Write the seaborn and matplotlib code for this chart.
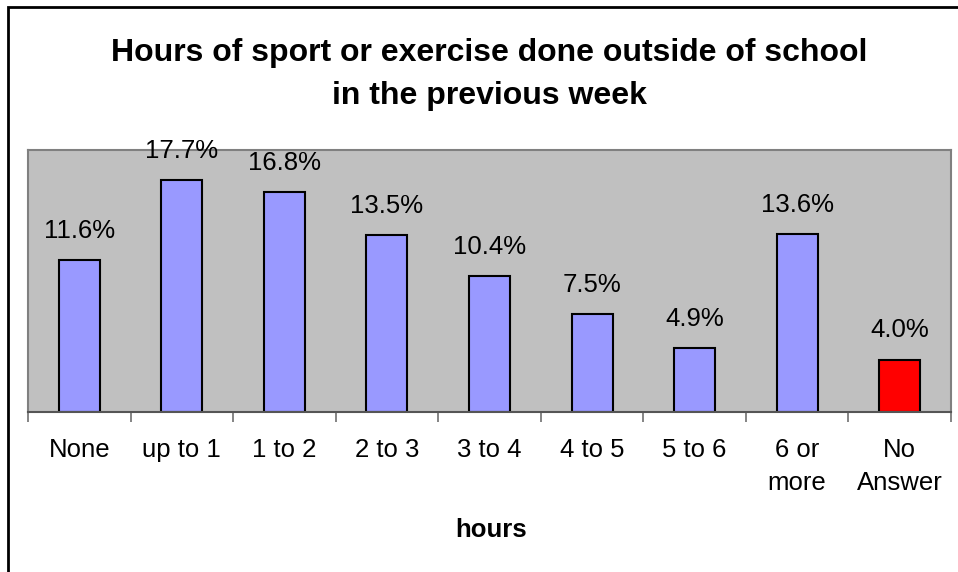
import matplotlib
matplotlib.use("Agg")
import matplotlib.pyplot as plt
from matplotlib.patches import Rectangle
import seaborn as sns

sns.set_theme(style="white")
plt.rcParams["font.family"] = ["Liberation Sans", "DejaVu Sans"]
plt.rcParams["text.color"] = "black"
plt.rcParams["xtick.color"] = "black"

categories = ["None", "up to 1", "1 to 2", "2 to 3", "3 to 4", "4 to 5", "5 to 6", "6 or\nmore", "No\nAnswer"]
percentages = [11.6, 17.7, 16.8, 13.5, 10.4, 7.5, 4.9, 13.6, 4.0]
bar_colors = ["#9999FF"] * 8 + ["#FF0000"]

W, H = 958, 572
fig = plt.figure(figsize=(W / 100, H / 100), dpi=100)

# outer chart border (runs off the right/bottom of the image like the original)
fig.patches.append(Rectangle((8 / W, -0.1), 1.2, 1.1 - 7 / H, transform=fig.transFigure,
                             fill=False, edgecolor="black", linewidth=2, zorder=0))

ax = fig.add_axes([28 / W, 1 - 412 / H, 923 / W, 262 / H])
ax.set_facecolor("#C0C0C0")

sns.barplot(x=categories, y=percentages, hue=categories, palette=bar_colors, legend=False,
            width=0.4, edgecolor="black", linewidth=1.5, saturation=1, ax=ax)

ax.set_ylim(0, 20)
ax.set_xlim(-0.5, len(categories) - 0.5)
ax.set_yticks([])
for side in ["left", "right", "top"]:
    ax.spines[side].set_color("#808080")
    ax.spines[side].set_linewidth(1.5)
ax.spines["bottom"].set_color("#555555")
ax.spines["bottom"].set_linewidth(1.5)

ax.set_xticks(range(len(categories)))
ax.set_xticklabels(categories, fontsize=18.5, linespacing=1.45, color="black")
ax.tick_params(axis="x", which="major", length=0, pad=19)
ax.set_xticks([i - 0.5 for i in range(len(categories) + 1)], minor=True)
ax.tick_params(axis="x", which="minor", bottom=True, length=7, width=1.2,
               color="#707070", direction="out")
for lbl in ax.get_xticklabels():
    lbl.set_verticalalignment("top")

for i, v in enumerate(percentages):
    ax.annotate(f"{v:.1f}%", (i, v), xytext=(0, 16), textcoords="offset points",
                ha="center", va="baseline", fontsize=18.5, clip_on=False, zorder=5)

fig.text(489.5 / W, 1 - 53 / H, "Hours of sport or exercise done outside of school",
         ha="center", va="center", fontsize=23, fontweight="bold")
fig.text(489.5 / W, 1 - 96 / H, "in the previous week",
         ha="center", va="center", fontsize=23, fontweight="bold")
fig.text(491 / W, 1 - 530 / H, "hours", ha="center", va="center", fontsize=18.5, fontweight="bold")

fig.savefig("out.png", dpi=100)
